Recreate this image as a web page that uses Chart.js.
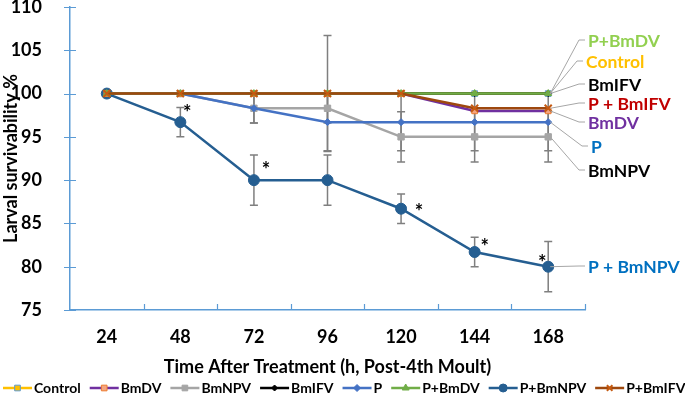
<!DOCTYPE html>
<html>
<head>
<meta charset="utf-8">
<script src="https://cdn.jsdelivr.net/npm/chart.js@4/dist/chart.umd.min.js"></script>
<style>
  html, body { margin: 0; padding: 0; background: #fff; }
  #wrap { width: 685px; height: 395px; position: relative; }
</style>
</head>
<body>
<div id="wrap"><canvas id="chart"></canvas></div>
<script>
// time points (h, post-4th moult)
const hours = ['24', '48', '72', '96', '120', '144', '168'];
const yTickMin = 75;
const yTickMax = 110;
const yTickStep = 5;

// larval survivability %
const control = [100, 100, 100, 100, 100, 100, 100];
const bmdv    = [100, 100, 100, 100, 100, 98, 98];
const bmnpv   = [100, 100, 98.3, 98.3, 95, 95, 95];
const bmifv   = [100, 100, 100, 100, 100, 100, 100];
const p       = [100, 100, 98.3, 96.7, 96.7, 96.7, 96.7];
const pBmdv   = [100, 100, 100, 100, 100, 100, 100];
const pBmnpv  = [100, 96.7, 90, 90, 86.7, 81.7, 80];
const pBmifv  = [100, 100, 100, 100, 100, 98.3, 98.3];

// error bar half-widths (+/-)
const errControl = [0, 0, 0, 0, 0, 0, 0];
const errBmdv    = [0, 0, 0, 6.7, 0, 0, 0];
const errBmnpv   = [0, 0, 1.7, 1.7, 2.9, 2.9, 2.9];
const errBmifv   = [0, 0, 0, 0, 0, 0, 0];
const errP       = [0, 0, 1.7, 3.3, 3.3, 3.3, 3.3];
const errPBmdv   = [0, 0, 0, 0, 0, 0, 0];
const errPBmnpv  = [0, 1.7, 2.9, 2.9, 1.7, 1.7, 2.9];
const errPBmifv  = [0, 0, 0, 0, 0, 0, 0];

// significance marks on P+BmNPV
const sigPBmnpv = [false, true, true, false, true, true, true];

// labels at the end of each line
const endLabels = ['Control', 'BmDV', 'BmNPV', 'BmIFV', 'P', 'P+BmDV', 'P + BmNPV', 'P + BmIFV'];

const FONT = 'Lato, "Open Sans", sans-serif';

function series(label, data, err, color, style) {
  return {
    label,
    data,
    err,
    borderColor: color,
    backgroundColor: color,
    borderWidth: 2.5,
    tension: 0,
    pointStyle: style.shape,
    pointRadius: style.radius,
    pointBackgroundColor: style.fill,
    pointBorderColor: style.stroke,
    pointBorderWidth: style.bw || 1,
    labelColor: style.labelColor,
    order: style.order,
  };
}

const datasets = [
  series('Control', control, errControl, '#FFC000', { shape: 'rect', radius: 4, fill: '#FFC000', stroke: '#5B9BD5', order: 7, labelColor: '#FFC000' }),
  series('BmDV', bmdv, errBmdv, '#7030A0', { shape: 'rect', radius: 4, fill: '#F4A582', stroke: '#ED7D31', order: 2, labelColor: '#7030A0' }),
  series('BmNPV', bmnpv, errBmnpv, '#A5A5A5', { shape: 'rect', radius: 4.5, fill: '#A5A5A5', stroke: '#A5A5A5', order: 5, labelColor: '#000000' }),
  series('BmIFV', bmifv, errBmifv, '#000000', { shape: 'rectRot', radius: 3, fill: '#000000', stroke: '#000000', order: 6, labelColor: '#000000' }),
  series('P', p, errP, '#4472C4', { shape: 'rectRot', radius: 3.5, fill: '#4472C4', stroke: '#4472C4', order: 4, labelColor: '#0070C0' }),
  series('P+BmDV', pBmdv, errPBmdv, '#70AD47', { shape: 'triangle', radius: 4, fill: '#70AD47', stroke: '#70AD47', order: 1, labelColor: '#92D050' }),
  series('P+BmNPV', pBmnpv, errPBmnpv, '#255E91', { shape: 'circle', radius: 5.5, fill: '#255E91', stroke: '#255E91', order: 3, labelColor: '#0070C0' }),
  series('P+BmIFV', pBmifv, errPBmifv, '#9E480E', { shape: 'crossRot', radius: 5, fill: '#ED7D31', stroke: '#C55A11', bw: 2, order: 0, labelColor: '#C00000' }),
];

// error bars drawn under the lines
const errorBars = {
  id: 'errorBars',
  beforeDatasetsDraw(chart) {
    const { ctx, scales: { x, y } } = chart;
    ctx.save();
    ctx.strokeStyle = '#7F7F7F';
    ctx.lineWidth = 1.5;
    chart.data.datasets.forEach((ds) => {
      ds.data.forEach((v, i) => {
        const e = ds.err[i];
        if (!e) return;
        const px = x.getPixelForValue(i);
        const top = y.getPixelForValue(v + e);
        const bot = y.getPixelForValue(v - e);
        ctx.beginPath();
        ctx.moveTo(px, top); ctx.lineTo(px, bot);
        ctx.moveTo(px - 4, top); ctx.lineTo(px + 4, top);
        ctx.moveTo(px - 4, bot); ctx.lineTo(px + 4, bot);
        ctx.stroke();
      });
    });
    ctx.restore();
  },
};

// axis tick marks (y crosses the axis, x points up)
const axisTicks = {
  id: 'axisTicks',
  afterDraw(chart) {
    const { ctx, chartArea: a, scales: { y } } = chart;
    ctx.save();
    ctx.strokeStyle = '#5B9BD5';
    ctx.lineWidth = 1.2;
    ctx.beginPath();
    for (let v = yTickMin; v <= yTickMax; v += yTickStep) {
      const py = Math.round(y.getPixelForValue(v)) + 0.5;
      ctx.moveTo(a.left - 6, py); ctx.lineTo(a.left + 6, py);
    }
    const w = (a.right - a.left) / hours.length;
    for (let k = 1; k <= hours.length; k++) {
      const px = Math.round(a.left + k * w) + 0.5;
      ctx.moveTo(px, a.bottom); ctx.lineTo(px, a.bottom - 6);
    }
    ctx.stroke();
    ctx.restore();
  },
};

// asterisks next to significant points
const sigMarks = {
  id: 'sigMarks',
  afterDatasetsDraw(chart, args, opts) {
    const { ctx, scales: { x, y } } = chart;
    ctx.save();
    ctx.font = 'bold 20px ' + FONT;
    ctx.fillStyle = '#000';
    ctx.textAlign = 'center';
    ctx.textBaseline = 'alphabetic';
    const m = ctx.measureText('*');
    const mid = (m.actualBoundingBoxAscent - m.actualBoundingBoxDescent) / 2;
    sigPBmnpv.forEach((s, i) => {
      if (!s) return;
      const [dx, dy] = opts.offsets[i];
      const px = x.getPixelForValue(i) + dx;
      const py = y.getPixelForValue(pBmnpv[i]) + dy;
      ctx.fillText('*', px, py + mid);
    });
    ctx.restore();
  },
};

// coloured labels at the line ends with grey leader lines
const endLabelPlugin = {
  id: 'endLabelPlugin',
  afterDraw(chart, args, opts) {
    const { ctx, scales: { x, y } } = chart;
    const last = hours.length - 1;
    ctx.save();
    ctx.font = 'bold 17.5px ' + FONT;
    ctx.textBaseline = 'middle';
    ctx.textAlign = 'left';
    chart.data.datasets.forEach((ds, di) => {
      const pos = opts.positions[di];
      const px = x.getPixelForValue(last);
      const py = y.getPixelForValue(ds.data[last]);
      ctx.strokeStyle = '#A6A6A6';
      ctx.lineWidth = 1;
      ctx.beginPath();
      ctx.moveTo(px + 2, py);
      ctx.lineTo(pos.x - 9, pos.y);
      ctx.lineTo(pos.x - 3, pos.y);
      ctx.stroke();
      ctx.fillStyle = ds.labelColor;
      ctx.fillText(endLabels[di], pos.x, pos.y + 1);
    });
    ctx.restore();
  },
};

// legend row along the bottom: line + marker + name
const lineLegend = {
  id: 'lineLegend',
  afterDraw(chart, args, opts) {
    const { ctx } = chart;
    ctx.save();
    ctx.font = 'bold 14px ' + FONT;
    ctx.textBaseline = 'middle';
    ctx.textAlign = 'left';
    let lx = opts.x;
    const ly = opts.y;
    chart.data.datasets.forEach((ds) => {
      ctx.strokeStyle = ds.borderColor;
      ctx.lineWidth = 2.5;
      ctx.beginPath();
      ctx.moveTo(lx, ly); ctx.lineTo(lx + 29, ly);
      ctx.stroke();
      ctx.fillStyle = ds.pointBackgroundColor;
      ctx.strokeStyle = ds.pointBorderColor;
      ctx.lineWidth = ds.pointBorderWidth;
      Chart.helpers.drawPoint(ctx, { pointStyle: ds.pointStyle, radius: Math.min(ds.pointRadius, 4), borderWidth: ds.pointBorderWidth, rotation: 0 }, lx + 14.5, ly);
      ctx.fillStyle = '#000';
      ctx.fillText(ds.label, lx + 31, ly);
      lx += 31 + ctx.measureText(ds.label).width + opts.gap;
    });
    ctx.restore();
  },
};

new Chart(document.getElementById('chart'), {
  type: 'line',
  data: { labels: hours, datasets },
  plugins: [errorBars, axisTicks, sigMarks, endLabelPlugin, lineLegend],
  options: {
    responsive: true,
    maintainAspectRatio: false,
    animation: false,
    layout: { padding: { top: 6, right: 100, bottom: 0, left: 0 } },
    plugins: {
      legend: { display: false },
      tooltip: { enabled: false },
      sigMarks: {
        offsets: [null, [7, -14], [12, -15], null, [18, -2], [10, -10], [-6, -9]],
      },
      endLabelPlugin: {
        positions: [
          { x: 586, y: 61 },  // Control
          { x: 588, y: 122 }, // BmDV
          { x: 588, y: 170 }, // BmNPV
          { x: 588, y: 84 },  // BmIFV
          { x: 591, y: 146 }, // P
          { x: 588, y: 40 },  // P+BmDV
          { x: 588, y: 266 }, // P + BmNPV
          { x: 588, y: 103 }, // P + BmIFV
        ],
      },
      lineLegend: { x: 3, y: 388, gap: 9 },
    },
    scales: {
      x: {
        offset: true,
        grid: { display: false },
        border: { display: true, color: '#5B9BD5', width: 1.5 },
        ticks: { color: '#000', padding: 8, font: { family: FONT, size: 18, weight: 'bold' } },
        title: {
          display: true,
          text: 'Time After Treatment (h, Post-4th Moult)',
          color: '#000',
          font: { family: FONT, size: 18, weight: 'bold' },
          padding: { top: 4, bottom: 17 },
        },
        afterFit(s) { s.height = 85; s.paddingLeft = 0; s.paddingRight = 0; },
      },
      y: {
        min: yTickMin,
        max: yTickMax,
        grid: { display: false },
        border: { display: true, color: '#5B9BD5', width: 1.5 },
        ticks: { stepSize: yTickStep, color: '#000', padding: 20, font: { family: FONT, size: 18, weight: 'bold' } },
        title: {
          display: true,
          text: 'Larval survivability %',
          color: '#000',
          font: { family: FONT, size: 18, weight: 'bold' },
          padding: { top: 0, bottom: 0 },
        },
        afterFit(s) { s.width = 70; s.paddingTop = 0; s.paddingBottom = 0; },
      },
    },
  },
});
</script>
</body>
</html>
